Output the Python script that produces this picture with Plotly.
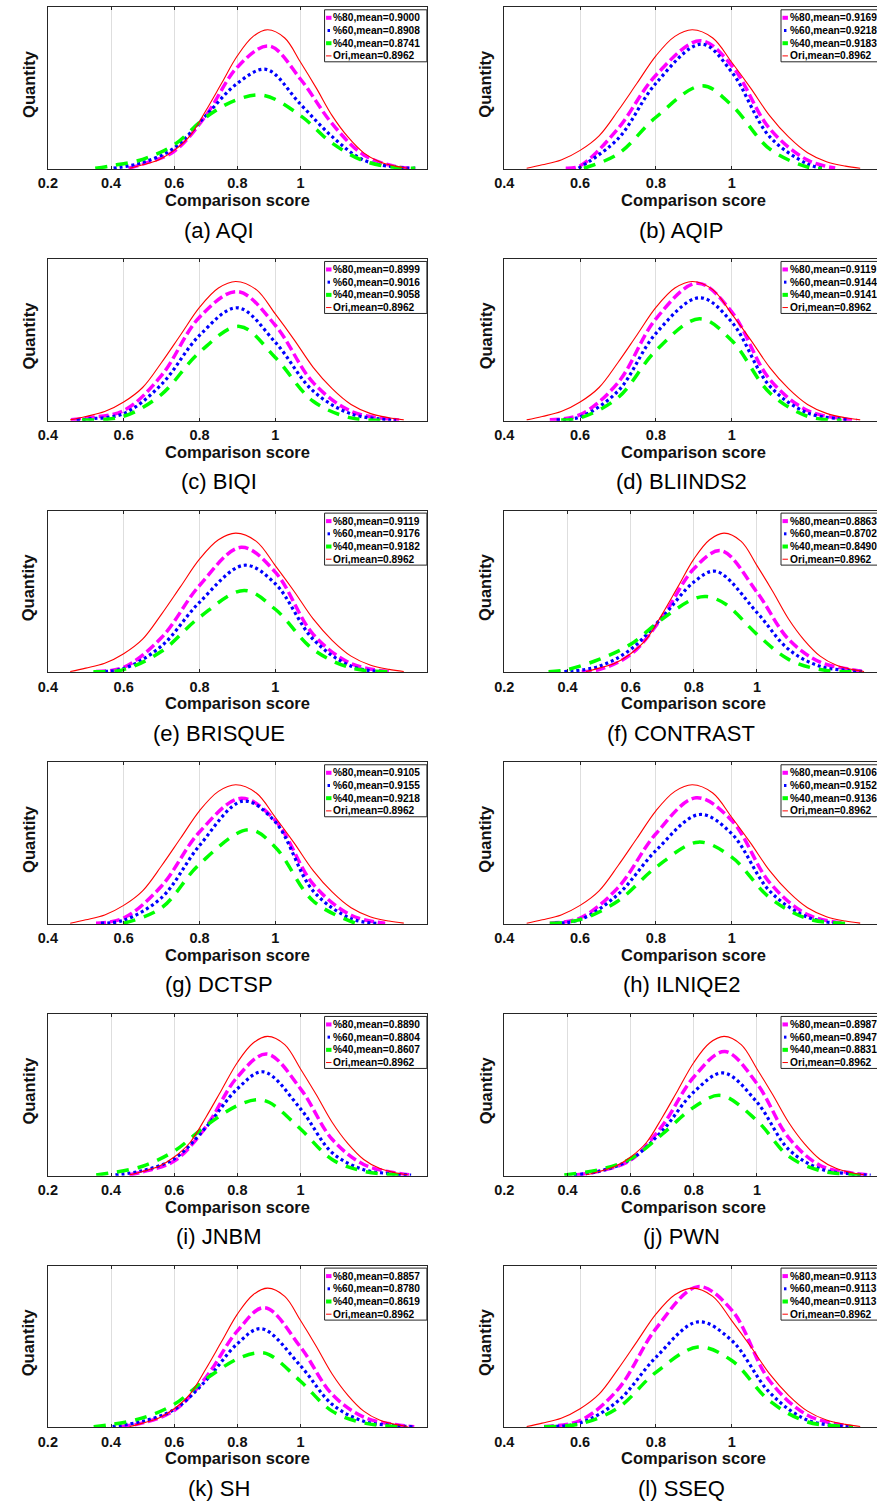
import plotly.graph_objects as go

W, H = 877, 1504
FONT = "Liberation Sans, Arial, Helvetica, sans-serif"

# ---------------- data ----------------
PANEL_LABELS = ["(a) AQI", "(b) AQIP", "(c) BIQI", "(d) BLIINDS2", "(e) BRISQUE", "(f) CONTRAST",
                "(g) DCTSP", "(h) ILNIQE2", "(i) JNBM", "(j) PWN", "(k) SH", "(l) SSEQ"]
MEAN_80 = ["0.9000", "0.9169", "0.8999", "0.9119", "0.9119", "0.8863",
           "0.9105", "0.9106", "0.8890", "0.8987", "0.8857", "0.9113"]
MEAN_60 = ["0.8908", "0.9218", "0.9016", "0.9144", "0.9176", "0.8702",
           "0.9155", "0.9152", "0.8804", "0.8947", "0.8780", "0.9113"]
MEAN_40 = ["0.8741", "0.9183", "0.9058", "0.9141", "0.9182", "0.8490",
           "0.9218", "0.9136", "0.8607", "0.8831", "0.8619", "0.9113"]
MEAN_ORI = "0.8962"

# x-axis lower limit of each panel and its tick values / labels
X_MIN = [0.2, 0.4, 0.4, 0.4, 0.4, 0.2, 0.4, 0.4, 0.2, 0.2, 0.2, 0.4]
TICKS_02 = [0.2, 0.4, 0.6, 0.8, 1.0]
TICKS_04 = [0.4, 0.6, 0.8, 1.0]
TICKTEXT = {0.2: "0.2", 0.4: "0.4", 0.6: "0.6", 0.8: "0.8", 1.0: "1"}

# Ori curve (identical in every panel); y = fraction of the axis height
ORI_X = [0.459, 0.5, 0.55, 0.6, 0.65, 0.7, 0.75, 0.8, 0.85, 0.896, 0.95, 1.0, 1.05,
         1.1, 1.15, 1.2, 1.25, 1.3, 1.339]
ORI_Y = [0.005, 0.026, 0.056, 0.115, 0.205, 0.36, 0.53, 0.70, 0.82, 0.861, 0.81, 0.66, 0.50,
         0.33, 0.198, 0.10, 0.045, 0.018, 0.005]

X80 = [
    [0.455, 0.5, 0.6, 0.7, 0.8, 0.9, 1.0, 1.1, 1.2, 1.3, 1.363],
    [0.562, 0.6, 0.7, 0.8, 0.917, 1.0, 1.1, 1.2, 1.273],
    [0.461, 0.5, 0.6, 0.7, 0.8, 0.9, 1.0, 1.1, 1.2, 1.3, 1.327],
    [0.52, 0.6, 0.7, 0.8, 0.91, 1.0, 1.1, 1.2, 1.3, 1.33],
    [0.527, 0.6, 0.7, 0.8, 0.91, 1.0, 1.1, 1.2, 1.305],
    [0.445, 0.5, 0.6, 0.7, 0.8, 0.886, 1.0, 1.1, 1.2, 1.3, 1.34],
    [0.527, 0.6, 0.7, 0.8, 0.91, 1.0, 1.1, 1.2, 1.29],
    [0.52, 0.6, 0.7, 0.8, 0.906, 1.0, 1.1, 1.2, 1.3],
    [0.458, 0.5, 0.6, 0.7, 0.8, 0.893, 1.0, 1.1, 1.2, 1.3, 1.35],
    [0.43, 0.5, 0.6, 0.7, 0.8, 0.898, 1.0, 1.1, 1.2, 1.3, 1.36],
    [0.43, 0.5, 0.6, 0.7, 0.8, 0.886, 1.0, 1.1, 1.2, 1.3, 1.36],
    [0.505, 0.6, 0.7, 0.8, 0.911, 1.0, 1.1, 1.2, 1.3, 1.32],
]
Y80 = [
    [0.005, 0.03, 0.11, 0.33, 0.63, 0.761, 0.555, 0.28, 0.087, 0.016, 0.004],
    [0.005, 0.02, 0.25, 0.58, 0.793, 0.64, 0.25, 0.055, 0.006],
    [0.005, 0.017, 0.062, 0.28, 0.64, 0.798, 0.59, 0.235, 0.058, 0.01, 0.004],
    [0.005, 0.037, 0.235, 0.63, 0.85, 0.673, 0.256, 0.063, 0.01, 0.004],
    [0.005, 0.031, 0.215, 0.537, 0.773, 0.62, 0.235, 0.054, 0.004],
    [0.005, 0.017, 0.11, 0.34, 0.64, 0.752, 0.495, 0.204, 0.063, 0.017, 0.004],
    [0.005, 0.037, 0.235, 0.569, 0.777, 0.64, 0.246, 0.054, 0.005],
    [0.005, 0.037, 0.225, 0.558, 0.78, 0.64, 0.256, 0.058, 0.005],
    [0.005, 0.023, 0.09, 0.30, 0.61, 0.752, 0.537, 0.225, 0.069, 0.017, 0.004],
    [0.005, 0.027, 0.096, 0.308, 0.61, 0.767, 0.569, 0.235, 0.063, 0.017, 0.004],
    [0.005, 0.027, 0.104, 0.308, 0.596, 0.74, 0.496, 0.204, 0.063, 0.017, 0.004],
    [0.005, 0.042, 0.235, 0.61, 0.87, 0.725, 0.288, 0.075, 0.01, 0.004],
]
X60 = [
    [0.408, 0.5, 0.6, 0.7, 0.8, 0.891, 1.0, 1.1, 1.2, 1.3, 1.363],
    [0.596, 0.7, 0.8, 0.92, 1.0, 1.1, 1.2, 1.238],
    [0.476, 0.5, 0.6, 0.7, 0.8, 0.9, 1.0, 1.1, 1.2, 1.3, 1.319],
    [0.538, 0.6, 0.7, 0.8, 0.915, 1.0, 1.1, 1.2, 1.3, 1.31],
    [0.534, 0.6, 0.7, 0.8, 0.918, 1.0, 1.1, 1.2, 1.29],
    [0.39, 0.5, 0.6, 0.7, 0.8, 0.87, 1.0, 1.1, 1.2, 1.3, 1.34],
    [0.54, 0.6, 0.7, 0.8, 0.915, 1.0, 1.1, 1.2, 1.27],
    [0.534, 0.6, 0.7, 0.8, 0.915, 1.0, 1.1, 1.2, 1.28],
    [0.414, 0.5, 0.6, 0.7, 0.8, 0.882, 1.0, 1.1, 1.2, 1.3, 1.35],
    [0.42, 0.5, 0.6, 0.7, 0.8, 0.893, 1.0, 1.1, 1.2, 1.3, 1.36],
    [0.405, 0.5, 0.6, 0.7, 0.8, 0.876, 1.0, 1.1, 1.2, 1.3, 1.36],
    [0.505, 0.6, 0.7, 0.8, 0.911, 1.0, 1.1, 1.2, 1.3, 1.32],
]
Y60 = [
    [0.005, 0.04, 0.13, 0.33, 0.53, 0.616, 0.40, 0.20, 0.055, 0.012, 0.004],
    [0.005, 0.187, 0.53, 0.772, 0.60, 0.20, 0.031, 0.005],
    [0.005, 0.01, 0.044, 0.225, 0.527, 0.698, 0.485, 0.183, 0.042, 0.006, 0.003],
    [0.005, 0.023, 0.183, 0.54, 0.76, 0.61, 0.215, 0.048, 0.008, 0.004],
    [0.005, 0.023, 0.163, 0.433, 0.662, 0.548, 0.204, 0.038, 0.003],
    [0.004, 0.037, 0.142, 0.34, 0.558, 0.625, 0.37, 0.142, 0.037, 0.01, 0.003],
    [0.005, 0.023, 0.163, 0.485, 0.76, 0.631, 0.204, 0.033, 0.004],
    [0.005, 0.027, 0.183, 0.454, 0.677, 0.558, 0.204, 0.042, 0.004],
    [0.005, 0.031, 0.104, 0.298, 0.537, 0.642, 0.413, 0.142, 0.037, 0.01, 0.003],
    [0.005, 0.027, 0.10, 0.277, 0.517, 0.635, 0.454, 0.163, 0.042, 0.01, 0.003],
    [0.005, 0.037, 0.11, 0.288, 0.517, 0.61, 0.38, 0.142, 0.037, 0.01, 0.003],
    [0.005, 0.027, 0.163, 0.433, 0.652, 0.537, 0.215, 0.044, 0.006, 0.003],
]
X40 = [
    [0.35, 0.4, 0.5, 0.6, 0.7, 0.8, 0.885, 1.0, 1.1, 1.2, 1.3, 1.363],
    [0.61, 0.7, 0.8, 0.922, 1.0, 1.1, 1.2, 1.238],
    [0.49, 0.6, 0.7, 0.8, 0.906, 1.0, 1.1, 1.2, 1.29],
    [0.55, 0.6, 0.7, 0.8, 0.915, 1.0, 1.1, 1.2, 1.29],
    [0.52, 0.6, 0.7, 0.8, 0.918, 1.0, 1.1, 1.2, 1.305],
    [0.34, 0.4, 0.5, 0.6, 0.7, 0.8, 0.84, 0.9, 1.0, 1.1, 1.2, 1.31],
    [0.60, 0.7, 0.8, 0.93, 1.0, 1.1, 1.21],
    [0.52, 0.6, 0.7, 0.8, 0.912, 1.0, 1.1, 1.2, 1.3],
    [0.353, 0.4, 0.5, 0.6, 0.7, 0.8, 0.86, 0.9, 1.0, 1.1, 1.2, 1.33],
    [0.39, 0.5, 0.6, 0.7, 0.8, 0.885, 1.0, 1.1, 1.2, 1.3, 1.34],
    [0.345, 0.4, 0.5, 0.6, 0.7, 0.8, 0.86, 0.9, 1.0, 1.1, 1.2, 1.33],
    [0.505, 0.6, 0.7, 0.8, 0.911, 1.0, 1.1, 1.2, 1.3, 1.32],
]
Y40 = [
    [0.004, 0.02, 0.06, 0.15, 0.32, 0.43, 0.455, 0.33, 0.16, 0.05, 0.01, 0.004],
    [0.005, 0.093, 0.32, 0.515, 0.394, 0.124, 0.012, 0.004],
    [0.004, 0.027, 0.163, 0.423, 0.583, 0.39, 0.12, 0.017, 0.003],
    [0.004, 0.017, 0.142, 0.433, 0.63, 0.496, 0.173, 0.027, 0.003],
    [0.004, 0.017, 0.13, 0.34, 0.506, 0.39, 0.142, 0.027, 0.003],
    [0.004, 0.017, 0.08, 0.173, 0.33, 0.454, 0.469, 0.423, 0.235, 0.08, 0.017, 0.003],
    [0.005, 0.10, 0.37, 0.583, 0.475, 0.142, 0.006],
    [0.004, 0.027, 0.142, 0.35, 0.506, 0.413, 0.163, 0.033, 0.003],
    [0.004, 0.017, 0.058, 0.152, 0.308, 0.433, 0.469, 0.454, 0.288, 0.10, 0.027, 0.003],
    [0.004, 0.037, 0.104, 0.256, 0.423, 0.496, 0.34, 0.12, 0.031, 0.006, 0.003],
    [0.004, 0.017, 0.058, 0.142, 0.298, 0.423, 0.46, 0.45, 0.285, 0.10, 0.027, 0.003],
    [0.004, 0.021, 0.12, 0.34, 0.496, 0.413, 0.163, 0.033, 0.006, 0.003],
]

# ---------------- styles / layout geometry (pixels) ----------------
C80, C60, C40, CORI = "#FF00FF", "#0000FF", "#00FF00", "#FF0000"
STYLE80 = dict(color=C80, width=3.5, dash="10px,4px")
STYLE60 = dict(color=C60, width=3.2, dash="3px,3px")
STYLE40 = dict(color=C40, width=3.5, dash="12px,9px")
STYLEORI = dict(color=CORI, width=1.1)
AXC = "#262626"

ROW_PERIOD = 251.66
TOP0, BOT0 = 7.3, 169.0
COLS = [(38.3, 421.7), (500.0, 883.4)]   # unclipped plot extents
CAPTION_X = [211.0, 679.0]
QUANT_X = [19.0, 481.0]
X_MAX = 1.4


def fx(px):
    return px / W


def fy(py):
    return 1 - py / H


fig = go.Figure()
layout = dict(
    width=W, height=H, autosize=False,
    margin=dict(l=0, r=0, t=0, b=0),
    paper_bgcolor="white", plot_bgcolor="white",
    showlegend=False,
    font=dict(family=FONT, color="black"),
)
shapes, annotations = [], []

for i in range(12):
    r, c = divmod(i, 2)
    left, right = COLS[c]
    top = TOP0 + r * ROW_PERIOD
    bot = BOT0 + r * ROW_PERIOD
    vis_right = min(right, W)
    lo = X_MIN[i]
    hi = lo + (X_MAX - lo) * (vis_right - left) / (right - left)
    n = i + 1
    xname = "xaxis" if n == 1 else f"xaxis{n}"
    yname = "yaxis" if n == 1 else f"yaxis{n}"
    xref = "x" if n == 1 else f"x{n}"
    yref = "y" if n == 1 else f"y{n}"
    tv = TICKS_02 if lo < 0.3 else TICKS_04

    layout[xname] = dict(
        domain=[fx(left), fx(vis_right)], anchor=yref, range=[lo, hi],
        tickmode="array", tickvals=tv, ticktext=[TICKTEXT[t] for t in tv],
        showgrid=True, gridcolor="#DEDEDE", gridwidth=1, zeroline=False,
        showline=True, linecolor=AXC, linewidth=1, mirror="ticks",
        ticks="inside", ticklen=3, tickcolor=AXC, tickwidth=1,
        tickfont=dict(family=FONT, size=14.5, color="#111111", weight="bold"),
        ticklabelstandoff=1, fixedrange=True,
    )
    layout[yname] = dict(
        domain=[fy(bot), fy(top)], anchor=xref, range=[0, 1],
        showgrid=False, zeroline=False, showticklabels=False, ticks="",
        showline=True, linecolor=AXC, linewidth=1, mirror=(c == 0), fixedrange=True,
    )

    for xs, ys, st in ((X80[i], Y80[i], STYLE80), (X60[i], Y60[i], STYLE60),
                       (X40[i], Y40[i], STYLE40), (ORI_X, ORI_Y, STYLEORI)):
        fig.add_trace(go.Scatter(
            x=xs, y=ys, xaxis=xref, yaxis=yref, mode="lines",
            line=dict(shape="spline", smoothing=1.0, **st),
            hoverinfo="skip", showlegend=False,
        ))

    # axis titles and caption
    cx = (left + right) / 2
    annotations.append(dict(
        text="Comparison score", xref="paper", yref="paper", x=fx(cx), y=fy(bot + 31),
        xanchor="center", yanchor="middle", showarrow=False,
        font=dict(family=FONT, size=16.5, color="#111111", weight="bold")))
    annotations.append(dict(
        text=PANEL_LABELS[i], xref="paper", yref="paper", x=fx(CAPTION_X[c]), y=fy(bot + 61),
        xanchor="center", yanchor="middle", showarrow=False,
        font=dict(family=FONT, size=22, color="black")))
    annotations.append(dict(
        text="Quantity", xref="paper", yref="paper", x=fx(QUANT_X[c]), y=fy((top + bot) / 2 - 4),
        xanchor="center", yanchor="middle", showarrow=False, textangle=-90,
        font=dict(family=FONT, size=16.5, color="#111111", weight="bold")))

    # legend box
    bl = right - 103.5
    shapes.append(dict(type="rect", xref="paper", yref="paper", layer="above",
                       x0=fx(bl), x1=fx(right), y0=fy(top + 54.5), y1=fy(top + 2.5),
                       line=dict(color=AXC, width=1), fillcolor="white"))
    entries = [
        (f"%80,mean={MEAN_80[i]}", C80, 4, 1.5, 7.0),
        (f"%60,mean={MEAN_60[i]}", C60, 3, 3.0, 5.5),
        (f"%40,mean={MEAN_40[i]}", C40, 4, 1.5, 7.0),
        (f"Ori,mean={MEAN_ORI}", CORI, 1, 1.5, 7.0),
    ]
    for k, (txt, col, lw, s0, s1) in enumerate(entries):
        ey = top + 10.5 + k * 12.7
        shapes.append(dict(type="line", xref="paper", yref="paper", layer="above",
                           x0=fx(bl + s0), x1=fx(bl + s1), y0=fy(ey), y1=fy(ey),
                           line=dict(color=col, width=lw)))
        annotations.append(dict(
            text=txt, xref="paper", yref="paper", x=fx(bl + 7.0), y=fy(ey),
            xanchor="left", yanchor="middle", showarrow=False,
            font=dict(family=FONT, size=10.2, color="black", weight="bold")))

layout["shapes"] = shapes
layout["annotations"] = annotations
fig.update_layout(**layout)

fig.write_html(
    "out.html",
    config={"displayModeBar": False, "staticPlot": True},
    post_script="document.body.style.margin='0';document.body.style.overflow='hidden';",
)
